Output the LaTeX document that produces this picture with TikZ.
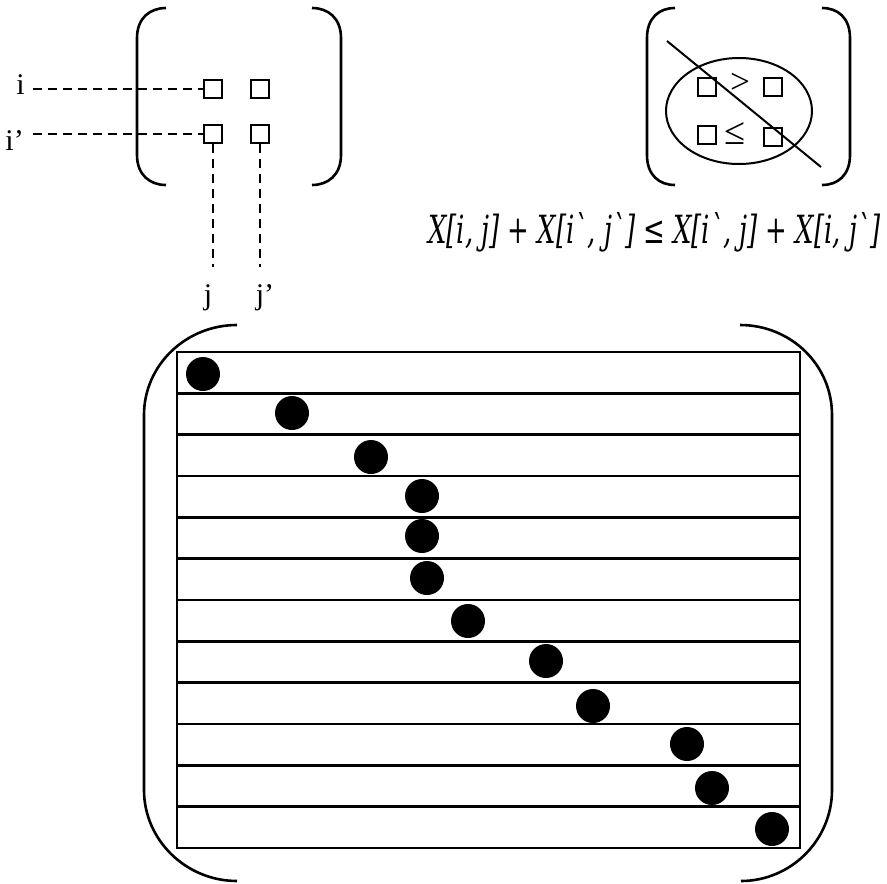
\documentclass[tikz,border=0pt]{standalone}
\usepackage{fontspec}
\setmainfont{Liberation Serif}
\newfontfamily\fml{DejaVu Serif}[Ligatures=TeXOff]
\usepackage{graphicx}
\begin{document}
\begin{tikzpicture}[x=1pt,y=-1pt,
  paren/.style={line width=2.6pt},
  cell/.style={draw,line width=2.2pt,minimum size=18pt,inner sep=0pt},
  guide/.style={line width=2pt,dash pattern=on 9pt off 6pt},
  lbl/.style={font=\fontsize{30}{30}\selectfont,inner sep=0pt},
  sym/.style={inner sep=0pt},
  dot/.style={circle,fill=black,minimum size=34pt,inner sep=0pt},
  grid/.style={line width=2.4pt}]
\useasboundingbox (0,0) rectangle (887,884);

% ---- small matrix with the two chosen rows and columns ----
\draw[paren] (166,8) .. controls (150,8) and (137,18) .. (137,38) -- (137,155)
  .. controls (137,175) and (150,185) .. (166,185);
\draw[paren] (312,8) .. controls (328,8) and (341,18) .. (341,38) -- (341,155)
  .. controls (341,175) and (328,185) .. (312,185);

\node[cell] (a11) at (213,89) {};
\node[cell] (a12) at (260,89) {};
\node[cell] (a21) at (213,134) {};
\node[cell] (a22) at (260,134) {};

\node[lbl,anchor=base east] (ri) at (25,94) {i};
\node[lbl,anchor=base east] (rii) at (24,150) {i’};
\node[lbl,anchor=base] (cj) at (208,304) {j};
\node[lbl,anchor=base] (cjj) at (265,304) {j’};

\coordinate (vj) at (213,267);
\coordinate (vjj) at (260,267);

\draw[guide] (33,89) -- (a11.west);
\draw[guide] (33,134) -- (a21.west);
\draw[guide] (a21.south) -- (vj);
\draw[guide] (a22.south) -- (vjj);

% ---- crossed-out forbidden pattern ----
\draw[paren] (675,8) .. controls (659,8) and (647,18) .. (647,38) -- (647,155)
  .. controls (647,175) and (659,185) .. (675,185);
\draw[paren] (822,8) .. controls (838,8) and (850,18) .. (850,38) -- (850,155)
  .. controls (850,175) and (838,185) .. (822,185);

\draw[line width=2pt] (739,111) ellipse [x radius=73, y radius=53];
\node[cell] (b11) at (707,87) {};
\node[cell] (b12) at (773,87) {};
\node[cell] (b21) at (707,135) {};
\node[cell] (b22) at (773,137) {};
\node[sym] (gt) at (740,83) {\resizebox{20pt}{!}{>}};
\node[sym] (le) at (735,134) {\resizebox{21pt}{!}{≤}};
\draw[line width=2pt] (667,41) -- (821,167);

% ---- Monge condition ----
\node[anchor=base west,inner sep=0pt] (eq) at (428,243)
  {\resizebox{452pt}{31pt}{\fml\itshape X[i, j] + X[i`, j`] ≤ X[i`, j] + X[i, j`]}};

% ---- large matrix, one marked entry per row ----
\draw[paren] (237,325) .. controls (186,325) and (144,365) .. (144,415) -- (144,790)
  .. controls (144,840) and (186,881) .. (237,881);
\draw[paren] (740,325) .. controls (791,325) and (832,365) .. (832,415) -- (832,790)
  .. controls (832,840) and (791,881) .. (741,881);

\draw[grid] (177,352) rectangle (800,848);
\foreach \k in {1,...,11}
  \draw[grid] (177,352+41.33*\k) -- (800,352+41.33*\k);

\foreach \n/\x/\y in {1/203/374, 2/292/413, 3/371/457, 4/422/496, 5/422/536,
  6/427/578, 7/468/621, 8/546/661, 9/593/706, 10/687/744, 11/712/788, 12/772/829}
  \node[dot] (d\n) at (\x,\y) {};
\end{tikzpicture}
\end{document}
